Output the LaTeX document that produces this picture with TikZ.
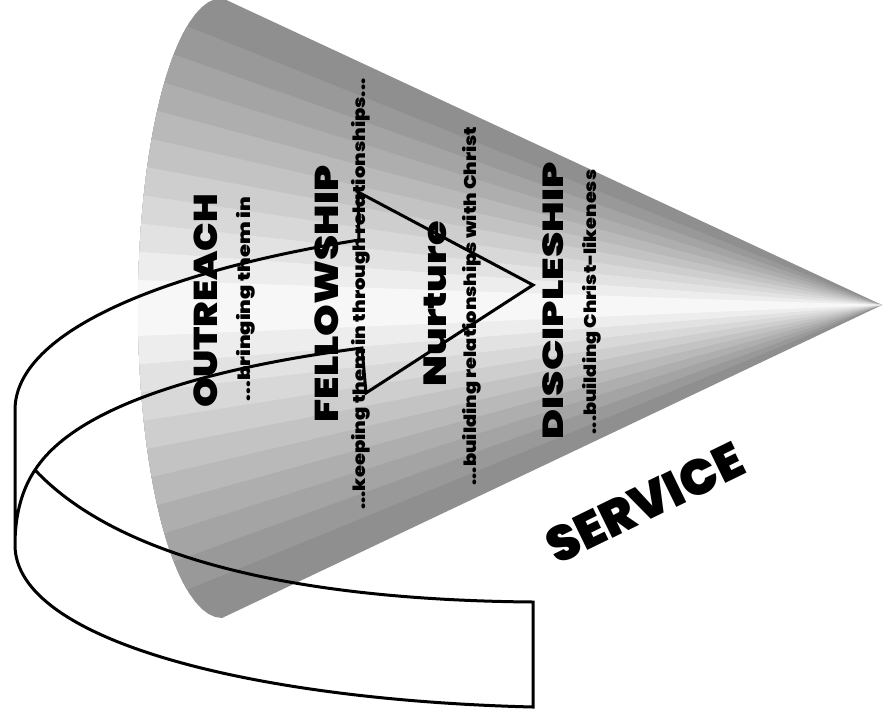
\documentclass[tikz,border=0pt]{standalone}
\usepackage{fontspec}
\newfontfamily\heavyfont{Poppins Black}
\begin{document}
\begin{tikzpicture}[x=1pt,y=-1pt,
  ribbon/.style={line width=3pt,line join=miter},
  title/.style={font=\heavyfont\fontsize{#1}{#1}\selectfont,rotate=90,inner sep=0pt},
  subtitle/.style={font=\heavyfont\fontsize{17}{17}\selectfont,rotate=90,inner sep=0pt}]
\useasboundingbox (0,0) rectangle (885,723);
\coordinate (apex) at (882,305);
\foreach \k in {0,...,10} {
  \pgfmathsetmacro\lev{44-41*\k/10}
  \pgfmathsetmacro\aa{acos(min(1,(310-28.2*\k)/310))}
  \pgfmathsetmacro\ab{acos(max(-1,(-310+28.2*\k)/310))}
  \fill[black!\lev] (apex) -- plot[domain=\aa:\ab,samples=40] ({222-84*sin(\x)},{308-310*cos(\x)}) -- cycle;
}

\coordinate (join) at (35,470);
\coordinate (endtop) at (533,602);
\coordinate (endbot) at (533,707);
\coordinate (turn) at (15,545);
\coordinate (outer) at (15,410);
\coordinate (backtop) at (359,240);
\coordinate (headtop) at (358,192);
\coordinate (tip) at (533,285);
\coordinate (headbot) at (366,393);
\coordinate (backbot) at (362,348);
\draw[ribbon] (join) .. controls (120,560) and (300,600) .. (endtop) -- (endbot)
  .. controls (250,700) and (15,640) .. (turn) -- (outer)
  .. controls (15,330) and (170,270) .. (backtop) -- (headtop) -- (tip) -- (headbot) -- (backbot)
  .. controls (230,365) and (80,400) .. (join) .. controls (27,482) and (15,505) .. (turn);

\node[title=33,xscale=1.15] (outreach) at (206,301) {OUTREACH};
\node[subtitle,xscale=1.24] (bringing) at (246,299) {...bringing them in};
\node[title=33,xscale=1.22] (fellowship) at (327,294) {FELLOWSHIP};
\node[subtitle,xscale=1.15] (keeping) at (361,294) {...keeping them in through relationships...};
\node[title=32,xscale=1.24] (nurture) at (435,304) {Nurture};
\node[subtitle,xscale=1.14] (building) at (472,306) {...building relationships with Christ};
\node[title=29,xscale=1.4] (discipleship) at (553,301) {DISCIPLESHIP};
\node[subtitle,xscale=1.13] (likeness) at (592,302) {...building Christ-likeness};
\node[font=\heavyfont\fontsize{50}{50}\selectfont,rotate=26,inner sep=0pt] (service) at (645,503) {SERVICE};
\end{tikzpicture}
\end{document}
